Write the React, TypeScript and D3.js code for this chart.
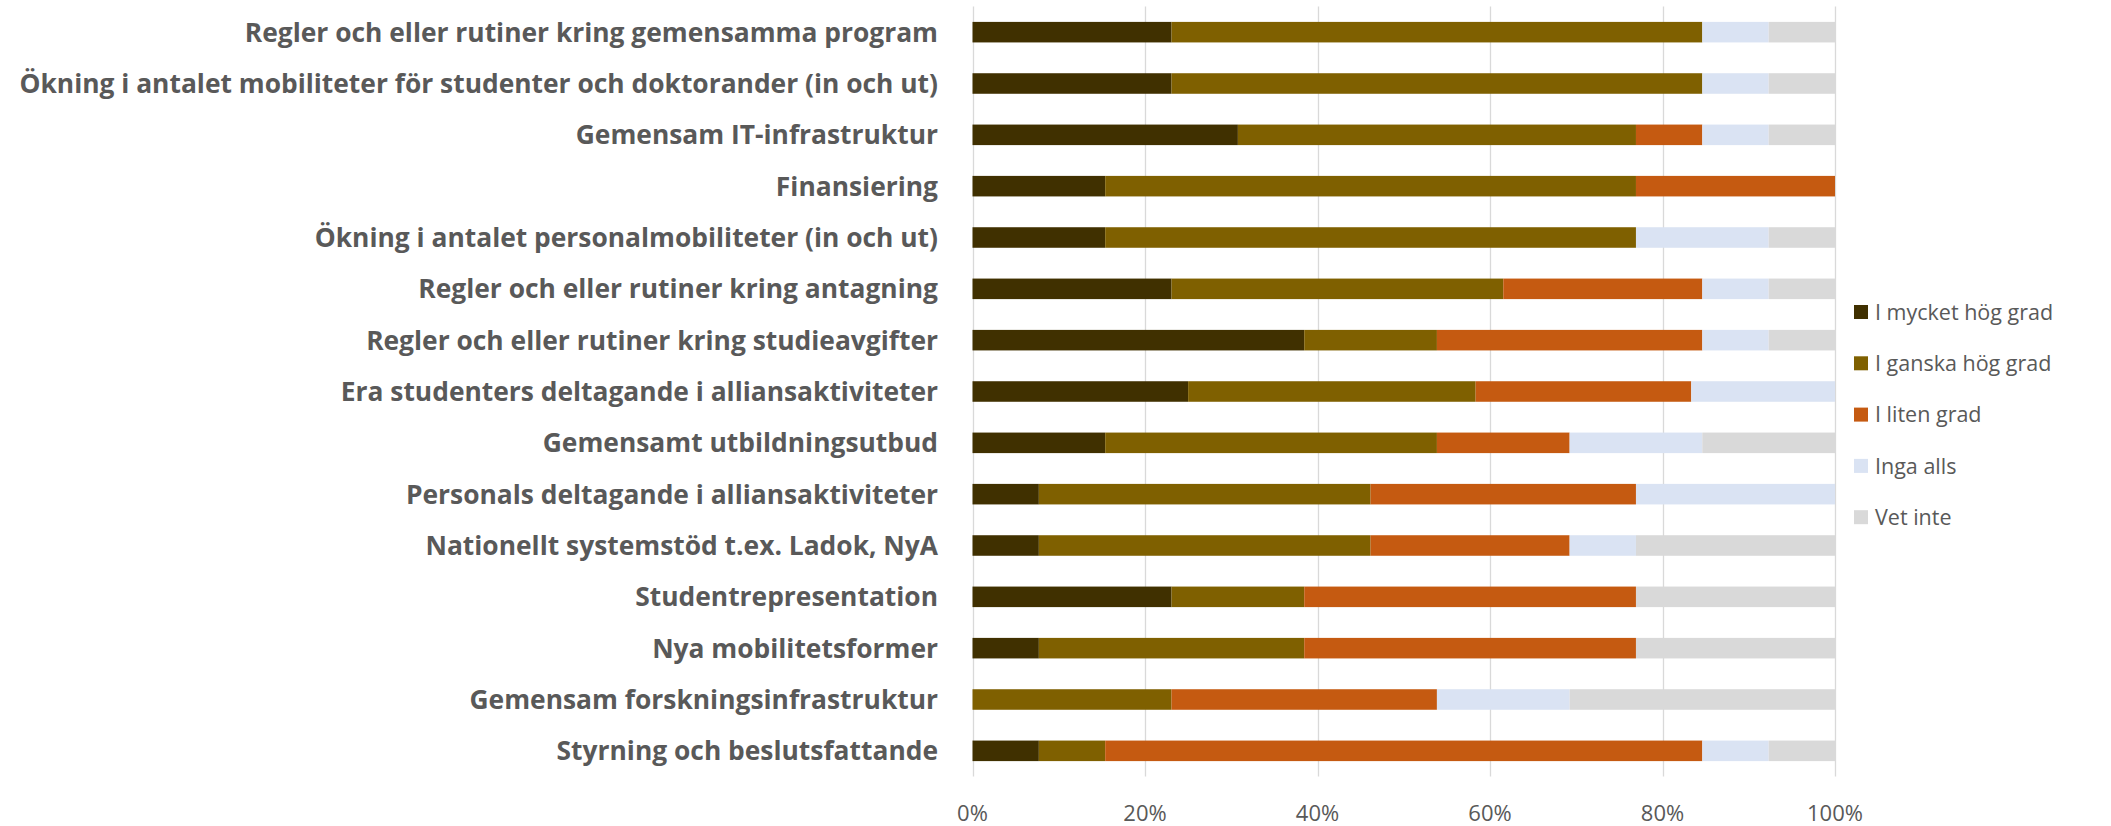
import React, { useEffect, useRef } from 'react';
import * as d3 from 'd3';

const categories = [
  'Regler och eller rutiner kring gemensamma program',
  'Ökning i antalet mobiliteter för studenter och doktorander (in och ut)',
  'Gemensam IT-infrastruktur',
  'Finansiering',
  'Ökning i antalet personalmobiliteter (in och ut)',
  'Regler och eller rutiner kring antagning',
  'Regler och eller rutiner kring studieavgifter',
  'Era studenters deltagande i alliansaktiviteter',
  'Gemensamt utbildningsutbud',
  'Personals deltagande i alliansaktiviteter',
  'Nationellt systemstöd t.ex. Ladok, NyA',
  'Studentrepresentation',
  'Nya mobilitetsformer',
  'Gemensam forskningsinfrastruktur',
  'Styrning och beslutsfattande',
];

const seriesNames = ['I mycket hög grad', 'I ganska hög grad', 'I liten grad', 'Inga alls', 'Vet inte'];
const seriesColors = ['#403000', '#7F6000', '#C55A11', '#DAE3F3', '#D9D9D9'];

// answer counts per category, shown as share of the row total
const mycketHog = [3, 3, 4, 2, 2, 3, 5, 3, 2, 1, 1, 3, 1, 0, 1];
const ganskaHog = [8, 8, 6, 8, 8, 5, 2, 4, 5, 5, 5, 2, 4, 3, 1];
const litenGrad = [0, 0, 1, 3, 0, 3, 4, 3, 2, 4, 3, 5, 5, 4, 9];
const ingaAlls = [1, 1, 1, 0, 2, 1, 1, 2, 2, 3, 1, 0, 0, 2, 1];
const vetInte = [1, 1, 1, 0, 1, 1, 1, 0, 2, 0, 3, 3, 3, 4, 1];

const tickValues = [0, 0.2, 0.4, 0.6, 0.8, 1];

const W = 2111;
const H = 826;

export default function App() {
  const svgRef = useRef<SVGSVGElement>(null);

  useEffect(() => {
    if (!svgRef.current) return;
    const svg = d3.select(svgRef.current);
    svg.selectAll('*').remove();

    const font = 'Open Sans, Noto Sans, sans-serif';
    const textColor = '#595959';

    const x = d3.scaleLinear().domain([0, 1]).range([972.5, 1835]);
    const y = d3.scaleBand().domain(categories).range([6.5, 776.5]).paddingInner(0.6).paddingOuter(0.3);

    const rows = categories.map((c, i) => {
      const vals = [mycketHog[i], ganskaHog[i], litenGrad[i], ingaAlls[i], vetInte[i]];
      const total = d3.sum(vals);
      const row: any = { cat: c };
      seriesNames.forEach((s, j) => (row[s] = vals[j] / total));
      return row;
    });
    const stacked = d3.stack<any>().keys(seriesNames)(rows);

    // gridlines
    svg
      .append('g')
      .selectAll('line')
      .data(tickValues)
      .enter()
      .append('line')
      .attr('x1', (d) => Math.round(x(d)) + 0.5)
      .attr('x2', (d) => Math.round(x(d)) + 0.5)
      .attr('y1', 6.5)
      .attr('y2', 776.5)
      .attr('stroke', '#D9D9D9')
      .attr('stroke-width', 1.3);

    // bars
    svg
      .append('g')
      .selectAll('g')
      .data(stacked)
      .enter()
      .append('g')
      .attr('fill', (_d, i) => seriesColors[i])
      .selectAll('rect')
      .data((d) => d)
      .enter()
      .append('rect')
      .attr('x', (d) => x(d[0]))
      .attr('width', (d) => Math.max(0, x(d[1]) - x(d[0])))
      .attr('y', (d) => y(d.data.cat)!)
      .attr('height', y.bandwidth());

    // x tick labels
    svg
      .append('g')
      .selectAll('text')
      .data(tickValues)
      .enter()
      .append('text')
      .attr('x', (d) => x(d))
      .attr('y', 821)
      .attr('text-anchor', 'middle')
      .attr('font-family', font)
      .attr('font-size', 22)
      .attr('fill', textColor)
      .text((d) => d3.format('.0%')(d));

    // category labels
    const labels = svg
      .append('g')
      .selectAll('text')
      .data(categories)
      .enter()
      .append('text')
      .attr('x', 938)
      .attr('y', (d) => y(d)! + y.bandwidth() / 2)
      .attr('dy', '0.36em')
      .attr('text-anchor', 'end')
      .attr('font-family', font)
      .attr('font-weight', 'bold')
      .attr('font-size', 24)
      .attr('fill', textColor)
      .text((d) => d);

    // fit the longest label to the width it has in the original
    const longest = d3.max(labels.nodes(), (n) => (n as SVGTextElement).getComputedTextLength()) || 1;
    const fs = Math.min(28, (24 * 919) / longest);
    labels.attr('font-size', fs);

    // legend
    const legend = svg
      .append('g')
      .selectAll('g')
      .data(seriesNames)
      .enter()
      .append('g')
      .attr('transform', (_d, i) => `translate(1854,${312 + i * 51.3})`);

    legend
      .append('rect')
      .attr('x', 0)
      .attr('y', -7)
      .attr('width', 14)
      .attr('height', 14)
      .attr('fill', (_d, i) => seriesColors[i]);

    legend
      .append('text')
      .attr('x', 21)
      .attr('y', 0)
      .attr('dy', '0.36em')
      .attr('font-family', font)
      .attr('font-size', 21.5)
      .attr('fill', textColor)
      .text((d) => d);
  }, []);

  return (
    <div style={{ position: 'absolute', left: 0, top: 0, width: W, height: H, background: '#fff' }}>
      <svg ref={svgRef} width={W} height={H} />
    </div>
  );
}
